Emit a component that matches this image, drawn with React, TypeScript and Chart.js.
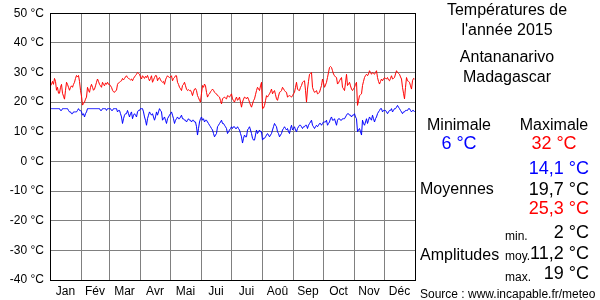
import React, { useEffect, useRef } from "react";
import { Chart, registerables } from "chart.js";

Chart.register(...registerables);

const monthLabels = ["Jan", "Fév", "Mar", "Avr", "Mai", "Jui", "Jui", "Aoû", "Sep", "Oct", "Nov", "Déc"];
const monthLengths = [31, 28, 31, 30, 31, 30, 31, 31, 30, 31, 30, 31];

// Daily maximum temperatures 2015 (°C)
const maxTemps = [
  // Jan
  25.5, 26, 27, 26, 28, 27, 24, 25, 23, 23, 25, 26, 23, 22, 21, 24, 26.7, 26, 25, 24, 25, 25.5, 25, 26, 26.7, 28, 29, 28.5, 29, 27, 24,
  // Feb
  22, 19, 19.5, 20, 21, 21.7, 25, 24, 23.3, 25, 26, 25, 24, 24.4, 25.5, 26.7, 27.8, 27, 26, 25.5, 25, 26.7, 26, 25.5, 26.5, 26, 26.7, 26,
  // Mar
  26, 25.5, 25, 24, 23.5, 23.3, 23.8, 24, 26, 26.5, 26.7, 27, 27.2, 28, 27.5, 28, 28.5, 28.9, 28.3, 28, 27.8, 27.5, 27.8, 27.2, 28, 28.5, 29, 29.4, 30, 29.7, 29.4,
  // Apr
  28.5, 27.8, 28.9, 28.5, 28, 28.7, 28.3, 29, 28, 27.2, 28, 28.9, 26.7, 27.5, 28.3, 29, 28.9, 27.2, 28, 28.3, 27.5, 27, 26.7, 27, 26, 27.5, 28.3, 28.9, 28.5, 28.3,
  // May
  28.5, 28.9, 27.2, 28, 28.3, 28.9, 28.9, 26.7, 26, 25, 24.5, 23.9, 25.6, 26, 26.7, 25.5, 24.4, 23.9, 24.2, 23.9, 24, 23.3, 22.2, 23.5, 24.4, 24.6, 23.9, 22.2, 21.5, 20.6, 20,
  // Jun
  23, 25.6, 25, 26.1, 25.5, 23.3, 21.7, 22.5, 22.8, 23.5, 23.9, 24.4, 24, 23.3, 23, 22.8, 22.2, 22, 21.7, 20.5, 19.4, 21.1, 21.5, 21.7, 21.3, 21.1, 22.2, 22, 21.7, 22.3,
  // Jul
  22.8, 21.1, 20.5, 20, 21, 21.7, 20.6, 21, 21.7, 20, 18.3, 20, 21, 21.7, 21.5, 21.1, 21.7, 21, 20, 19, 18.3, 19.4, 20.5, 21.1, 22.5, 23.9, 25, 24.5, 23.9, 25.5, 26.7,
  // Aug
  17.8, 18, 18.9, 20.5, 22.2, 21.7, 22.3, 22.8, 23.5, 24.4, 22.8, 23.5, 23.9, 22.5, 21.1, 20.6, 22, 23.3, 23.5, 23.9, 25, 24.5, 23.9, 23.5, 23.3, 21.7, 22, 22.2, 22, 21.7, 22.2,
  // Sep
  22.8, 23.3, 25, 26.7, 24.4, 24, 23.9, 25, 25.6, 26.7, 27, 27.2, 24, 20, 24.4, 27, 29.4, 29.7, 30, 25, 24, 23.3, 23.5, 23.9, 22.8, 23, 23.3, 24.5, 25.6, 27.8,
  // Oct
  26.5, 25, 25.8, 26.7, 28.3, 30, 31.7, 32, 31.7, 30.6, 29.5, 28.9, 28.5, 28.3, 26.1, 26.5, 27.2, 27.8, 28.3, 25, 24.5, 23.9, 26.5, 29.4, 25.6, 26, 26.7, 25.5, 24.4, 23.9, 24.5,
  // Nov
  25, 26, 26.7, 18.9, 20.5, 22.2, 22.5, 22.8, 25.6, 27, 28.3, 29, 29.4, 28.9, 29.5, 30.6, 30, 29.4, 30, 29.7, 29.4, 30, 30.6, 28.3, 27, 26.1, 27, 27.8, 27.2, 27.8,
  // Dec
  28.3, 28, 27.8, 28.3, 27.5, 27.2, 28, 28.9, 27.8, 28, 28.3, 29.5, 30.6, 30, 29.7, 29.4, 28.5, 27.8, 25, 23, 21.1, 25, 28.3, 27.2, 27, 26.7, 25.5, 24.4, 27.2, 28, 27.8,
];

// Daily minimum temperatures 2015 (°C)
const minTemps = [
  // Jan
  17.8, 17.8, 17.8, 17.8, 17.8, 17.8, 17.8, 17.8, 17.8, 17.8, 17.2, 17.2, 17.8, 17.8, 17.8, 17.8, 17.8, 17.8, 17.2, 16.7, 16.7, 16.1, 16.1, 16.7, 16.7, 16.7, 16.7, 17.2, 17.8, 17.2, 17.2,
  // Feb
  16.7, 15.6, 16.1, 15, 16.1, 16.7, 17.8, 17.8, 17.8, 17.8, 17.8, 17.8, 17.8, 17.8, 17.8, 17.8, 17.8, 17.8, 17.8, 17.2, 17.2, 17.8, 17.8, 17.8, 17.8, 17.2, 17.8, 17.8,
  // Mar
  17.8, 17.8, 17.2, 17.2, 17.8, 17.8, 17.8, 17.8, 16.7, 17.2, 17.2, 16.1, 15, 12.8, 14.4, 15.6, 16.1, 16.1, 17.2, 16.1, 15, 16.1, 16.7, 14.4, 15.6, 16.1, 15.6, 15, 16.7, 17.2, 17.2,
  // Apr
  17.8, 17.8, 17.8, 16.7, 15, 13.9, 12.2, 14.4, 15.6, 16.7, 16.1, 15.6, 16.1, 15, 13.9, 15, 16.7, 15.6, 16.7, 17.8, 17.2, 16.7, 13.9, 14.4, 15, 13.9, 12.8, 14.4, 15, 15.6,
  // May
  16.1, 16.7, 15.6, 14.4, 12.8, 13.9, 14.4, 15, 14.4, 14.4, 15, 15.6, 14.4, 14.4, 13.9, 13.9, 13.3, 13.9, 14.4, 13.9, 13.9, 13.3, 13.9, 13.9, 13.3, 13.3, 11.7, 8.9, 11.1, 13.3, 14.4,
  // Jun
  15, 13.9, 14.4, 13.3, 13.9, 13.9, 13.3, 12.8, 12.2, 11.7, 11.1, 10.6, 9.4, 8.3, 8.9, 9.4, 11.7, 12.2, 12.8, 13.3, 13.9, 12.8, 12.8, 12.2, 11.7, 11.1, 9.4, 10, 10.6, 11.1,
  // Jul
  11.7, 11.1, 11.7, 11.7, 11.1, 11.1, 11.7, 11.1, 10.6, 9.4, 8.3, 6.2, 7.8, 8.9, 8.3, 8.3, 10.6, 11.1, 11.7, 10.6, 9.4, 7.8, 7.2, 7.2, 8.9, 10.6, 9.4, 10, 10.6, 10, 10,
  // Aug
  7.2, 7.8, 7.8, 8.3, 8.9, 9.4, 8.9, 8.3, 8.9, 9.4, 10.6, 11.7, 12.8, 12.2, 11.7, 10, 9.4, 8.3, 8.9, 9.4, 10.6, 11.1, 11.7, 11.1, 10.6, 11.1, 10, 9.4, 11.1, 12.2, 10.6,
  // Sep
  11.1, 11.7, 10.6, 10, 11.1, 11.7, 12.2, 12.2, 11.7, 11.1, 11.7, 11.7, 12.2, 12.2, 11.1, 12.2, 12.8, 13.3, 13.9, 12.2, 11.7, 11.1, 11.7, 12.2, 11.7, 12.2, 12.8, 12.8, 12.2, 12.8,
  // Oct
  13.3, 13.3, 13.3, 13.9, 12.2, 12.8, 13.3, 14.4, 15, 13.9, 13.9, 14.4, 13.3, 12.2, 13.9, 14.4, 14.4, 13.9, 13.9, 14.4, 14.4, 14.4, 15, 15.6, 16.1, 16.1, 15.6, 15.6, 15, 15.6, 15.6,
  // Nov
  16.1, 15, 14.4, 10, 10.6, 11.1, 10, 8.9, 13.9, 12.8, 12.2, 13.3, 14.4, 12.8, 13.9, 15, 14.4, 13.9, 15.6, 14.4, 13.3, 14.4, 15, 16.1, 16.7, 17.2, 17.8, 17.8, 16.7, 17.2,
  // Dec
  17.2, 17.2, 16.7, 16.1, 16.7, 17.2, 17.2, 17.8, 16.7, 17.2, 17.8, 17.8, 18.3, 18.9, 18.3, 17.8, 17.2, 16.7, 16.1, 16.7, 16.7, 17.2, 17.2, 17.2, 17.8, 17.8, 17.2, 16.7, 17.2, 17.2, 16.7,
];

const yMin = -40;
const yMax = 50;
const yStep = 10;

const FONT = '"Liberation Sans", Arial, Helvetica, sans-serif';

type TxtProps = { x: number; y: number; a: "l" | "c" | "r"; size: number; color?: string; children: React.ReactNode };
function Txt({ x, y, a, size, color = "#000", children }: TxtProps) {
  const tx = a === "c" ? "-50%" : a === "r" ? "-100%" : "0";
  return (
    <div
      style={{
        position: "absolute",
        left: x,
        top: y,
        transform: `translate(${tx}, -50%)`,
        fontSize: size,
        lineHeight: 1,
        whiteSpace: "nowrap",
        color,
        fontFamily: FONT,
      }}
    >
      {children}
    </div>
  );
}

export default function App() {
  const ref = useRef<HTMLCanvasElement>(null);

  useEffect(() => {
    if (!ref.current) return;
    const starts: number[] = [];
    let acc = 0;
    monthLengths.forEach((l) => {
      starts.push(acc);
      acc += l;
    });
    const total = acc;
    const tickDefs: { value: number; label: string; grid: boolean }[] = [];
    starts.forEach((s, i) => {
      tickDefs.push({ value: s, label: "", grid: true });
      tickDefs.push({ value: s + monthLengths[i] / 2, label: monthLabels[i], grid: false });
    });
    tickDefs.push({ value: total, label: "", grid: true });
    const tickMap = new Map(tickDefs.map((t) => [t.value, t]));

    const framePlugin = {
      id: "frame",
      afterDatasetsDraw(chart: any) {
        const { ctx, chartArea: a } = chart;
        ctx.save();
        ctx.strokeStyle = "#000";
        ctx.lineWidth = 1;
        const l = Math.floor(a.left) + 0.5;
        const t = Math.floor(a.top) + 0.5;
        const r = Math.floor(a.right) + 0.5;
        const b = Math.floor(a.bottom) + 0.5;
        ctx.strokeRect(l, t, r - l, b - t);
        ctx.restore();
      },
    };

    const chart = new Chart(ref.current, {
      type: "line",
      data: {
        datasets: [
          {
            label: "Max",
            data: maxTemps.map((v, i) => ({ x: i + 0.5, y: v })),
            borderColor: "#ff0000",
            borderWidth: 1,
            pointRadius: 0,
            tension: 0,
            fill: false,
          },
          {
            label: "Min",
            data: minTemps.map((v, i) => ({ x: i + 0.5, y: v })),
            borderColor: "#0000ff",
            borderWidth: 1,
            pointRadius: 0,
            tension: 0,
            fill: false,
          },
        ],
      },
      options: {
        animation: false,
        responsive: false,
        devicePixelRatio: 1,
        layout: { padding: { top: 10, right: 185, bottom: 0, left: 0 } },
        plugins: { legend: { display: false }, tooltip: { enabled: false } },
        scales: {
          x: {
            type: "linear",
            min: 0,
            max: total,
            afterBuildTicks: (s: any) => {
              s.ticks = tickDefs.map((t) => ({ value: t.value }));
            },
            afterFit: (s: any) => {
              s.height = 20;
            },
            ticks: {
              autoSkip: false,
              maxRotation: 0,
              minRotation: 0,
              padding: 4,
              color: "#000",
              font: { family: FONT, size: 12 },
              callback: (v: any) => tickMap.get(v)?.label ?? "",
            },
            grid: {
              drawTicks: false,
              lineWidth: 1,
              color: (ctx: any) =>
                ctx.tick && tickMap.get(ctx.tick.value)?.grid ? "#808080" : "rgba(0,0,0,0)",
            },
            border: { display: false },
          },
          y: {
            type: "linear",
            min: yMin,
            max: yMax,
            afterFit: (s: any) => {
              s.width = 50;
            },
            ticks: {
              stepSize: yStep,
              padding: 6,
              color: "#000",
              font: { family: FONT, size: 12 },
              callback: (v: any) => `${v} °C`,
            },
            grid: { drawTicks: false, color: "#808080", lineWidth: 1 },
            border: { display: false },
          },
        },
      },
      plugins: [framePlugin],
    } as any);

    return () => chart.destroy();
  }, []);

  return (
    <div style={{ position: "fixed", left: 0, top: 0, width: 600, height: 300, background: "#fff", fontFamily: FONT }}>
      <canvas ref={ref} width={600} height={300} style={{ position: "absolute", left: 0, top: 0 }} />
      <Txt x={507} y={10} a="c" size={16}>Températures de</Txt>
      <Txt x={507} y={30} a="c" size={16}>l'année 2015</Txt>
      <Txt x={507} y={57} a="c" size={16}>Antananarivo</Txt>
      <Txt x={507} y={77} a="c" size={16}>Madagascar</Txt>
      <Txt x={459} y={125} a="c" size={16}>Minimale</Txt>
      <Txt x={554} y={125} a="c" size={16}>Maximale</Txt>
      <Txt x={459} y={143} a="c" size={18} color="#0000ff">6 °C</Txt>
      <Txt x={554} y={143} a="c" size={18} color="#ff0000">32 °C</Txt>
      <Txt x={589} y={168} a="r" size={18} color="#0000ff">14,1 °C</Txt>
      <Txt x={420} y={189} a="l" size={16}>Moyennes</Txt>
      <Txt x={589} y={189} a="r" size={18}>19,7 °C</Txt>
      <Txt x={589} y={208} a="r" size={18} color="#ff0000">25,3 °C</Txt>
      <Txt x={505} y={236} a="l" size={12}>min.</Txt>
      <Txt x={589} y={232} a="r" size={18}>2 °C</Txt>
      <Txt x={420} y={255} a="l" size={16}>Amplitudes</Txt>
      <Txt x={505} y={256} a="l" size={12}>moy.</Txt>
      <Txt x={589} y={253} a="r" size={18}>11,2 °C</Txt>
      <Txt x={505} y={277} a="l" size={12}>max.</Txt>
      <Txt x={589} y={273} a="r" size={18}>19 °C</Txt>
      <Txt x={420} y={294} a="l" size={12}>Source : www.incapable.fr/meteo</Txt>
    </div>
  );
}
